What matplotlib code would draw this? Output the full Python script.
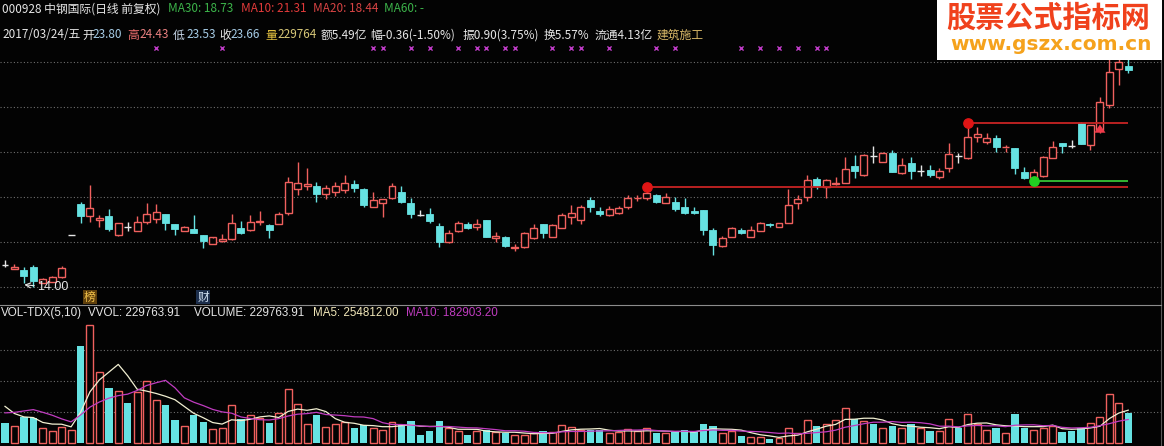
import numpy as np
import pandas as pd
import matplotlib
matplotlib.use('Agg')
import matplotlib.pyplot as plt
from matplotlib.patches import Rectangle
from matplotlib.transforms import blended_transform_factory

# daily candles, 120 trading days (oldest first)
opens = [15.00, 14.80, 14.76, 14.90, 14.19, 14.24, 14.46, 16.31, 17.69, 17.17,
         16.98, 17.16, 16.31, 16.65, 16.50, 16.90, 17.02, 17.23, 16.80, 16.49,
         16.58, 16.30, 15.93, 16.04, 16.13, 16.64, 16.53, 16.90, 16.76, 16.81,
         17.27, 18.34, 18.49, 18.49, 18.12, 18.24, 18.31, 18.58, 18.36, 17.57,
         17.75, 17.94, 18.21, 17.72, 17.22, 17.23, 16.71, 15.99, 16.47, 16.80,
         16.65, 16.98, 16.16, 16.24, 15.73, 15.76, 16.16, 16.80, 16.20, 16.64,
         17.13, 16.99, 17.87, 17.38, 17.19, 17.27, 17.57, 17.95, 17.97, 18.09,
         17.75, 17.76, 17.54, 17.38, 17.42, 16.53, 15.82, 16.24, 16.53, 16.24,
         16.50, 16.79, 16.68, 16.86, 17.72, 18.00, 18.79, 18.46, 18.59, 18.64,
         19.38, 18.98, 19.82, 19.57, 19.97, 19.08, 19.53, 19.17, 19.20, 18.90,
         19.27, 19.84, 19.72, 20.65, 20.46, 20.61, 20.20, 20.16, 19.10, 18.86,
         18.93, 19.75, 20.39, 20.25, 21.30, 20.31, 20.98, 22.09, 23.69, 23.80]
highs = [15.20, 15.01, 14.87, 14.98, 14.38, 14.50, 14.93, 16.31, 17.80, 18.53,
         17.20, 17.45, 16.85, 16.90, 17.16, 17.75, 17.69, 17.25, 16.82, 16.70,
         17.20, 16.32, 16.22, 16.37, 17.25, 16.93, 17.20, 17.38, 16.78, 17.35,
         18.90, 19.54, 19.27, 18.68, 18.53, 18.68, 18.98, 18.76, 18.38, 18.24,
         17.93, 18.61, 18.49, 17.97, 17.42, 17.50, 16.83, 16.53, 16.95, 16.90,
         17.01, 17.00, 16.46, 16.26, 15.90, 16.46, 16.80, 16.82, 16.78, 17.30,
         17.65, 17.65, 18.01, 17.57, 17.60, 17.61, 18.09, 18.09, 18.46, 18.12,
         18.19, 18.01, 17.94, 17.54, 17.44, 16.64, 16.27, 16.68, 16.64, 16.71,
         16.89, 16.86, 16.84, 18.34, 18.09, 18.98, 18.90, 18.78, 18.87, 19.79,
         19.87, 19.89, 20.27, 20.01, 20.09, 19.72, 19.76, 19.42, 19.42, 19.27,
         20.39, 19.94, 21.30, 21.10, 20.86, 20.76, 20.31, 20.19, 19.35, 19.23,
         19.82, 20.50, 20.40, 20.53, 21.32, 21.22, 22.46, 24.20, 24.40, 24.43]
lows = [14.90, 14.80, 14.16, 14.00, 14.17, 14.22, 14.41, 16.31, 16.83, 16.87,
        16.65, 16.50, 16.27, 16.47, 16.48, 16.81, 16.86, 16.53, 16.31, 16.47,
        16.39, 15.75, 15.92, 16.02, 16.11, 16.34, 16.51, 16.76, 16.16, 16.79,
        17.22, 18.09, 18.31, 17.79, 17.90, 18.06, 18.19, 18.24, 17.57, 17.54,
        17.13, 17.90, 17.73, 17.08, 17.16, 16.86, 15.79, 15.97, 16.45, 16.58,
        16.53, 16.21, 16.01, 15.76, 15.61, 15.72, 16.13, 16.16, 16.16, 16.61,
        16.81, 16.79, 17.35, 17.16, 17.16, 17.24, 17.45, 17.84, 17.87, 17.72,
        17.73, 17.38, 17.24, 17.24, 16.31, 15.42, 15.76, 16.21, 16.34, 16.21,
        16.47, 16.68, 16.67, 16.84, 17.45, 17.81, 18.36, 17.94, 18.54, 18.61,
        18.86, 18.93, 19.53, 19.55, 19.11, 19.02, 18.80, 18.93, 18.90, 18.79,
        19.13, 19.53, 19.67, 20.46, 20.36, 20.01, 20.01, 19.02, 18.79, 18.73,
        18.90, 19.72, 19.97, 20.16, 20.34, 20.07, 20.86, 21.95, 22.98, 23.53]
closes = [15.00, 14.90, 14.49, 14.28, 14.34, 14.43, 14.83, 16.31, 17.17, 17.50,
          17.05, 16.58, 16.83, 16.65, 16.90, 17.24, 17.32, 16.86, 16.58, 16.68,
          16.41, 16.04, 16.20, 16.13, 16.86, 16.41, 16.90, 16.93, 16.53, 17.24,
          18.68, 18.61, 18.58, 18.13, 18.39, 18.49, 18.61, 18.39, 17.64, 17.87,
          17.90, 18.50, 17.76, 17.24, 17.22, 16.95, 16.01, 16.41, 16.86, 16.61,
          16.80, 16.24, 16.27, 15.82, 15.78, 16.39, 16.64, 16.39, 16.76, 17.19,
          17.28, 17.54, 17.57, 17.24, 17.45, 17.53, 17.94, 17.97, 18.19, 17.79,
          17.99, 17.47, 17.30, 17.27, 16.53, 15.87, 16.16, 16.61, 16.39, 16.53,
          16.83, 16.74, 16.83, 17.64, 17.91, 18.76, 18.49, 18.76, 18.61, 19.23,
          19.17, 19.87, 19.82, 19.94, 19.13, 19.42, 19.17, 19.17, 18.98, 19.17,
          19.91, 19.84, 20.65, 20.79, 20.61, 20.24, 20.24, 19.27, 18.83, 19.10,
          19.76, 20.24, 20.27, 20.25, 20.36, 21.20, 22.24, 23.57, 24.02, 23.66]

# volume in thousands of lots
vol_k = [157, 132, 203, 196, 114, 94, 127, 102, 749, 909,
         551, 424, 401, 310, 394, 478, 335, 292, 178, 132,
         216, 165, 107, 119, 297, 185, 216, 198, 157, 236,
         419, 305, 152, 216, 127, 147, 165, 114, 140, 114,
         106, 165, 152, 170, 64, 97, 170, 114, 94, 64,
         94, 102, 84, 81, 64, 64, 76, 94, 84, 140,
         122, 102, 102, 102, 76, 89, 107, 94, 114, 76,
         76, 89, 102, 89, 147, 132, 76, 94, 58, 51,
         51, 30, 38, 114, 81, 178, 132, 152, 183, 274,
         185, 170, 152, 114, 132, 114, 145, 114, 94, 94,
         190, 114, 229, 147, 102, 119, 76, 224, 119, 102,
         120, 135, 85, 97, 119, 154, 200, 380, 310, 229.76391]
# days just before the window (not shown), guessed from where the MA lines start
vol_before_k = [94, 94, 93, 320, 319, 407, 333, 221, 302]

# purple x marks in the strip above the candles
mark_days = [16, 23, 39, 40, 43, 45, 48, 50, 51, 53, 54, 58, 60, 61, 64, 69, 71,
             78, 80, 82, 84, 86, 87]
high_dot_days = [68, 102]
low_dot_days = [109]
signal_day = 116
tags = [('榜', 9), ('财', 21)]

BG = '#030303'
RED = '#f0605e'
CYAN = '#66e2e2'
WHITE = '#e6e6e6'
GRID = '#6e6e6e'
W, H = 1164, 446

plt.rcParams['font.family'] = ['Noto Sans CJK SC', 'DejaVu Sans']

o = np.array(opens); h = np.array(highs); l = np.array(lows); c = np.array(closes)
n = len(o)
x = np.arange(n)
vol = np.array(vol_k) * 1000
vol_all = pd.Series(np.concatenate([np.array(vol_before_k) * 1000, vol]))
ma5 = vol_all.rolling(5).mean().values[-n:]
ma10 = vol_all.rolling(10).mean().values[-n:]

prev_c = np.concatenate([[np.inf], c[:-1]])
up = c > o
down = c < o
flat = c == o
vol_up = up | (flat & (c >= prev_c))


def box(x0, y0, x1, y1):
    return [x0 / W, 1 - y1 / H, (x1 - x0) / W, (y1 - y0) / H]


fig = plt.figure(figsize=(W / 100, H / 100), dpi=100, facecolor=BG)
ax = fig.add_axes(box(0, 0, 1161, 304), facecolor=BG)
axv = fig.add_axes(box(0, 305, 1161, 446), facecolor=BG)

# pixel geometry of the original: candle i at 5 + 9.439*i px, 22.5 px per 1.00
xl = (-5 / 9.439, 1156 / 9.439)
for a in (ax, axv):
    a.set_xlim(*xl)
    a.set_xticks([]); a.set_yticks([])
    for s in ('left', 'bottom', 'top'):
        a.spines[s].set_visible(False)
    a.spines['right'].set_color('#5a5a5a')
axv.spines['top'].set_visible(True)
axv.spines['top'].set_color('#8c8c8c')
ax.set_ylim(14 - 17 / 22.5, 14 + 287 / 22.5)
axv.set_ylim(-2.7 * 7690, 138.3 * 7690)

for p in np.arange(14, 25, 2):
    ax.axhline(p, color=GRID, ls=(0, (1, 2)), lw=0.8, zorder=0)
for v in [240000, 480000, 720000]:
    axv.axhline(v, color=GRID, ls=(0, (1, 2)), lw=0.8, zorder=0)

# candles
bw = 0.74
ax.vlines(x[up], l[up], o[up], color=RED, lw=1)
ax.vlines(x[up], c[up], h[up], color=RED, lw=1)
ax.bar(x[up], c[up] - o[up], bottom=o[up], width=bw, facecolor=BG, edgecolor=RED, lw=1)
ax.vlines(x[down], l[down], h[down], color=CYAN, lw=1)
ax.bar(x[down], o[down] - c[down], bottom=c[down], width=bw, color=CYAN, edgecolor=CYAN, lw=0.6)
ax.vlines(x[flat], l[flat], h[flat], color=WHITE, lw=1)
ax.hlines(c[flat], x[flat] - bw / 2, x[flat] + bw / 2, color=WHITE, lw=1)

# support / resistance lines with dots
for d in high_dot_days:
    ax.hlines(h[d], d, n - 1, color='#c82424', lw=1.3, zorder=3)
    ax.scatter([d], [h[d]], s=45, color='#e01515', zorder=4)
for d in low_dot_days:
    ax.hlines(l[d], d, n - 1, color='#36c236', lw=1.3, zorder=3)
    ax.scatter([d], [l[d]], s=45, color='#22d022', zorder=4)
lvl = h[high_dot_days[-1]]
ax.annotate('', xy=(signal_day, lvl + 0.05), xytext=(signal_day, lvl - 0.42),
            arrowprops=dict(arrowstyle='simple,head_width=0.8,head_length=0.6,tail_width=0.3',
                            color='#f03a4a', lw=0), zorder=5)

# lowest low label
imin = int(np.argmin(l))
ax.annotate(f'{l[imin]:.2f}', xy=(imin - 0.95, l[imin] + 0.1), xytext=(imin + 0.4, l[imin] - 0.02),
            color=WHITE, fontsize=9, va='center', ha='left', family='Liberation Sans',
            arrowprops=dict(arrowstyle='->', color=WHITE, lw=0.8, shrinkA=0, shrinkB=0))

trans = blended_transform_factory(ax.transData, ax.transAxes)
ax.scatter(mark_days, [256 / 304] * len(mark_days), transform=trans, marker='x',
           s=9, color='#c03cc8', lw=1, clip_on=False)
tag_style = {'榜': ('#f2c24a', '#5e3f0c'), '财': ('#cfe0f2', '#1c2e4c')}
for t, d in tags:
    fc, bc = tag_style[t]
    ax.text(d, 7 / 304, t, transform=trans, color=fc, fontsize=8.5, ha='center', va='center',
            bbox=dict(boxstyle='square,pad=0.08', facecolor=bc, edgecolor='none'))

# volume
axv.bar(x[vol_up], vol[vol_up], width=bw, facecolor=BG, edgecolor=RED, lw=1)
axv.bar(x[~vol_up], vol[~vol_up], width=bw + 0.04, color=CYAN, lw=0)
axv.plot(x, ma5, color='#f2f0d2', lw=0.9)
axv.plot(x, ma10, color='#c03cc0', lw=0.9)

# header texts
def put(px, py, s, color, size=8.5, **kw):
    fig.text(px / W, 1 - py / H, s, color=color, fontsize=size, ha='left', va='center', **kw)

put(2, 9, '000928 中钢国际(日线 前复权)', WHITE)
put(168, 9, 'MA30: 18.73', '#3cb44a')
put(241, 9, 'MA10: 21.31', '#e23a3a')
put(313, 9, 'MA20: 18.44', '#d84444')
put(384, 9, 'MA60: -', '#3cb44a')

line2 = [(2, '2017/03/24/五', WHITE), (82, '开', WHITE), (92, '23.80', '#a6cce6'),
         (127, '高', '#f07070'), (139, '24.43', '#ea8080'), (173, '低', '#c8d8ea'),
         (186, '23.53', '#a6cce6'), (219, '收', WHITE), (230, '23.66', '#a6cce6'),
         (265, '量', '#e2c040'), (277, '229764', '#d8c878'), (321, '额5.49亿', WHITE),
         (370, '幅-0.36(-1.50%)', WHITE), (463, '振0.90(3.75%)', WHITE),
         (544, '换5.57%', WHITE), (595, '流通4.13亿', WHITE), (657, '建筑施工', '#d8b868')]
for px, s, col in line2:
    put(px, 35, s, col)

vfont = dict(family='Liberation Sans')
put(1, 313, 'VOL-TDX(5,10)', WHITE, 8.4, **vfont)
put(88, 313, 'VVOL: 229763.91', WHITE, 8.4, **vfont)
put(194, 313, 'VOLUME: 229763.91', WHITE, 8.4, **vfont)
put(313, 313, 'MA5: 254812.00', '#f0e6b8', 8.4, **vfont)
put(406, 313, 'MA10: 182903.20', '#c03cc0', 8.4, **vfont)

# watermark
fig.patches.append(Rectangle((937 / W, 1 - 60 / H), 225 / W, 60 / H,
                             transform=fig.transFigure, facecolor='white', edgecolor='none'))
fig.text(1048 / W, 1 - 18 / H, '股票公式指标网', color='#f0411c', fontsize=21,
         weight='bold', ha='center', va='center')
fig.text(1051 / W, 1 - 45 / H, 'www.gszx.com.cn', color='#f5a21c', fontsize=14.5,
         weight='bold', ha='center', va='center', family='DejaVu Sans')

fig.savefig('out.png', dpi=100, facecolor=BG)
